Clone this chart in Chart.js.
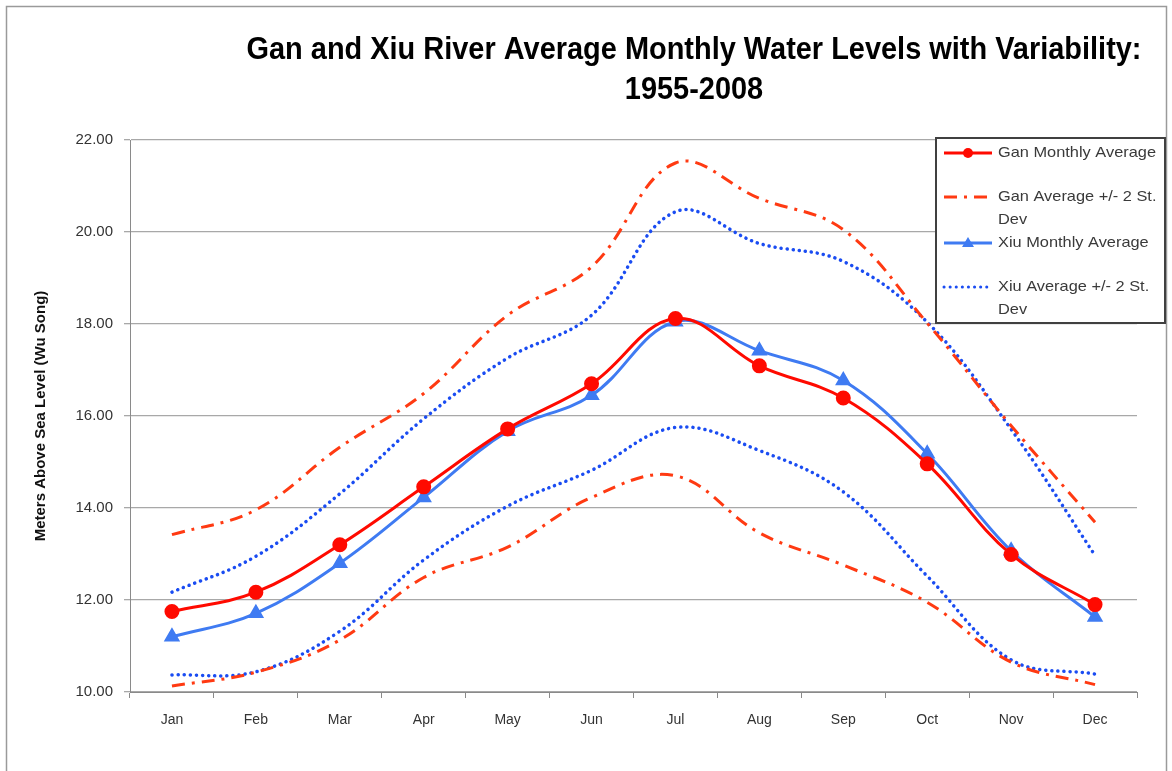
<!DOCTYPE html>
<html>
<head>
<meta charset="utf-8">
<title>Gan and Xiu River Water Levels</title>
<script src="https://cdn.jsdelivr.net/npm/chart.js@4.4.1/dist/chart.umd.min.js"></script>
<style>
  html, body { margin: 0; padding: 0; background: #fff; }
  canvas { display: block; }
</style>
</head>
<body>
<canvas id="grafico" width="1172" height="771"></canvas>
<script>
// valores (metros acima do nivel do mar)
const meses = ["Jan", "Feb", "Mar", "Apr", "May", "Jun", "Jul", "Aug", "Sep", "Oct", "Nov", "Dec"];
const ganMedia = [11.75, 12.17, 13.20, 14.46, 15.72, 16.70, 18.12, 17.09, 16.39, 14.96, 12.99, 11.90];
const xiuMedia = [11.20, 11.71, 12.80, 14.23, 15.67, 16.45, 18.05, 17.42, 16.77, 15.18, 13.07, 11.63];
const ganSuperior = [13.42, 13.96, 15.32, 16.49, 18.19, 19.24, 21.50, 20.73, 20.05, 18.02, 15.79, 13.69];
const ganInferior = [10.13, 10.43, 11.13, 12.49, 13.15, 14.23, 14.70, 13.46, 12.76, 11.95, 10.65, 10.16];
const xiuSuperior = [12.17, 12.95, 14.31, 15.94, 17.26, 18.19, 20.44, 19.75, 19.36, 18.04, 15.71, 12.97];
const xiuInferior = [10.37, 10.44, 11.32, 12.87, 14.04, 14.82, 15.75, 15.25, 14.35, 12.52, 10.70, 10.39];

const tituloLinhas = ["Gan and Xiu River Average Monthly Water Levels with Variability:", "1955-2008"];
const tituloEixoY = "Meters Above Sea Level (Wu Song)";

const corGan = "#ff0a00";
const corGanDesvio = "#ff3a12";
const corXiu = "#3f7bf2";
const corXiuDesvio = "#1a4cf2";
const tracoGan = [13, 7, 3, 7];
const tracoXiu = [0.1, 6];

const fonteTexto = "'Liberation Sans', Arial, sans-serif";

// itens da legenda (as faixas +/- compartilham uma entrada)
const itensLegenda = [
  { texto: ["Gan Monthly Average"], cor: corGan, traco: [], marcador: "circle" },
  { texto: ["Gan Average +/- 2 St.", "Dev"], cor: corGanDesvio, traco: tracoGan, marcador: null },
  { texto: ["Xiu Monthly Average"], cor: corXiu, traco: [], marcador: "triangle" },
  { texto: ["Xiu Average +/- 2 St.", "Dev"], cor: corXiuDesvio, traco: tracoXiu, marcador: null }
];

// escreve texto comprimido na horizontal (fonte do original e estreita)
function textoEstreito(ctx, texto, x, y, escala) {
  ctx.save();
  ctx.translate(x, y);
  ctx.scale(escala, 1);
  ctx.fillText(texto, 0, 0);
  ctx.restore();
}

const decoracao = {
  id: "decoracao",
  afterDraw(chart) {
    const ctx = chart.ctx;
    ctx.save();

    // moldura externa
    ctx.strokeStyle = "#9a9a9a";
    ctx.lineWidth = 1.5;
    ctx.strokeRect(6.5, 6.5, 1160, 780);

    // titulo, comprimido para a largura do original
    ctx.fillStyle = "#000";
    ctx.textAlign = "center";
    ctx.textBaseline = "middle";
    ctx.font = "bold 31px " + fonteTexto;
    const escTitulo = 895 / ctx.measureText(tituloLinhas[0]).width;
    textoEstreito(ctx, tituloLinhas[0], 694, 50, escTitulo);
    textoEstreito(ctx, tituloLinhas[1], 694, 90, escTitulo);

    // legenda
    const bx = 936, by = 138, bw = 229, bh = 185;
    ctx.fillStyle = "#fff";
    ctx.fillRect(bx, by, bw, bh);
    ctx.strokeStyle = "#404040";
    ctx.lineWidth = 2;
    ctx.strokeRect(bx, by, bw, bh);

    const linhasY = [153, 197, 243, 287];
    ctx.textAlign = "left";
    ctx.font = "15px " + fonteTexto;
    const escLegenda = 158 / ctx.measureText("Gan Monthly Average").width;
    itensLegenda.forEach((item, i) => {
      const y = linhasY[i];
      ctx.strokeStyle = item.cor;
      ctx.lineWidth = 3;
      ctx.lineCap = item.traco === tracoXiu ? "round" : "butt";
      ctx.setLineDash(item.traco);
      ctx.beginPath();
      ctx.moveTo(944, y);
      ctx.lineTo(992, y);
      ctx.stroke();
      ctx.setLineDash([]);
      if (item.marcador === "circle") {
        ctx.fillStyle = item.cor;
        ctx.beginPath();
        ctx.arc(968, y, 5, 0, Math.PI * 2);
        ctx.fill();
      } else if (item.marcador === "triangle") {
        ctx.fillStyle = item.cor;
        ctx.beginPath();
        ctx.moveTo(968, y - 6);
        ctx.lineTo(974, y + 4);
        ctx.lineTo(962, y + 4);
        ctx.closePath();
        ctx.fill();
      }
      ctx.fillStyle = "#3a3a3a";
      item.texto.forEach((t, k) => textoEstreito(ctx, t, 998, y + k * 23, escLegenda));
    });
    ctx.restore();
  }
};

new Chart(document.getElementById("grafico"), {
  type: "line",
  data: {
    labels: meses,
    datasets: [
      { label: "Gan Monthly Average", data: ganMedia, borderColor: corGan, backgroundColor: corGan,
        borderWidth: 3, pointStyle: "circle", pointRadius: 6, order: 0 },
      { label: "Xiu Monthly Average", data: xiuMedia, borderColor: corXiu, backgroundColor: corXiu,
        borderWidth: 3, pointStyle: "triangle", pointRadius: 6.5, order: 1 },
      { label: "Gan +2 St. Dev", data: ganSuperior, borderColor: corGanDesvio, borderDash: tracoGan,
        borderWidth: 3, pointRadius: 0, order: 2 },
      { label: "Gan -2 St. Dev", data: ganInferior, borderColor: corGanDesvio, borderDash: tracoGan,
        borderWidth: 3, pointRadius: 0, order: 3 },
      { label: "Xiu +2 St. Dev", data: xiuSuperior, borderColor: corXiuDesvio, borderDash: tracoXiu,
        borderCapStyle: "round", borderWidth: 3.5, pointRadius: 0, order: 4 },
      { label: "Xiu -2 St. Dev", data: xiuInferior, borderColor: corXiuDesvio, borderDash: tracoXiu,
        borderCapStyle: "round", borderWidth: 3.5, pointRadius: 0, order: 5 }
    ]
  },
  options: {
    responsive: false,
    animation: false,
    events: [],
    elements: { line: { tension: 0.38, fill: false } },
    layout: { padding: { top: 140, right: 35, bottom: 0, left: 32 } },
    plugins: {
      legend: { display: false },
      title: { display: false },
      tooltip: { enabled: false }
    },
    scales: {
      x: {
        type: "category",
        offset: true,
        grid: { offset: true, drawOnChartArea: false, drawTicks: true, tickLength: 6, color: "#8a8a8a" },
        border: { color: "#8a8a8a", width: 1 },
        ticks: { padding: 14, color: "#333", font: { family: fonteTexto, size: 14 } },
        afterFit(scale) { scale.height = 79; }
      },
      y: {
        min: 10,
        max: 22,
        ticks: {
          stepSize: 2,
          padding: 11,
          color: "#333",
          font: { family: fonteTexto, size: 15 },
          callback: v => v.toFixed(2)
        },
        grid: { color: "#a8a8a8", lineWidth: 1.3, tickLength: 6 },
        border: { color: "#8a8a8a", width: 1 },
        title: {
          display: true,
          text: tituloEixoY,
          color: "#111",
          font: { family: fonteTexto, size: 15, weight: "bold" },
          padding: { top: 0, bottom: 0 }
        },
        afterFit(scale) { scale.width = 98; }
      }
    }
  },
  plugins: [decoracao]
});
</script>
</body>
</html>
